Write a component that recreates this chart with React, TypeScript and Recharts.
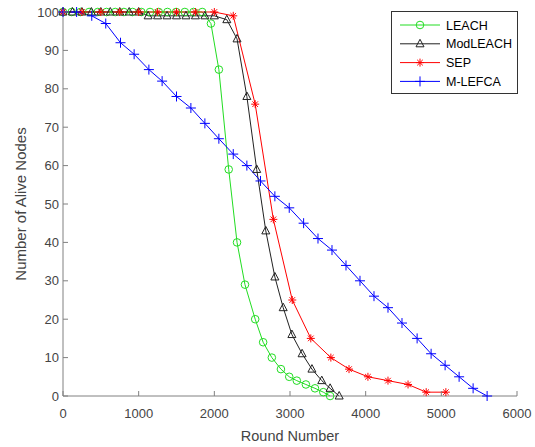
import React from "react";
import { LineChart, Line, XAxis, YAxis, Label } from "recharts";

// rounds / alive nodes
const leachRounds = [0, 115, 230, 345, 460, 575, 690, 805, 920, 1035, 1150, 1265, 1380, 1495, 1610, 1725, 1840, 1955, 2060, 2190, 2300, 2405, 2540, 2645, 2760, 2880, 2990, 3090, 3210, 3330, 3440, 3530];
const leachAlive = [100, 100, 100, 100, 100, 100, 100, 100, 100, 100, 100, 100, 100, 100, 100, 100, 100, 97, 85, 59, 40, 29, 20, 14, 10, 7, 5, 4, 3, 2, 1, 0];

const modRounds = [0, 125, 250, 375, 500, 625, 750, 875, 1000, 1125, 1250, 1375, 1500, 1625, 1750, 1875, 2000, 2165, 2300, 2430, 2560, 2680, 2800, 2910, 3025, 3160, 3290, 3420, 3530, 3650];
const modAlive = [100, 100, 100, 100, 100, 100, 100, 100, 100, 99, 99, 99, 99, 99, 99, 99, 99, 98, 93, 78, 59, 43, 31, 23, 16, 11, 7, 4, 2, 0];

const sepRounds = [0, 250, 500, 750, 1000, 1250, 1500, 1750, 2000, 2250, 2540, 2780, 3030, 3275, 3540, 3780, 4030, 4295, 4560, 4800, 5060];
const sepAlive = [100, 100, 100, 100, 100, 100, 100, 100, 100, 99, 76, 46, 25, 15, 10, 7, 5, 4, 3, 1, 1];

const lefcaRounds = [0, 180, 380, 565, 760, 940, 1135, 1310, 1500, 1690, 1875, 2060, 2250, 2430, 2610, 2800, 2990, 3180, 3370, 3555, 3740, 3925, 4110, 4295, 4480, 4680, 4865, 5050, 5235, 5420, 5605];
const lefcaAlive = [100, 100, 99, 97, 92, 89, 85, 82, 78, 75, 71, 67, 63, 60, 56, 52, 49, 45, 41, 38, 34, 30, 26, 23, 19, 15, 11, 8, 5, 2, 0];

const xTicks = [0, 1000, 2000, 3000, 4000, 5000, 6000];
const yTicks = [0, 10, 20, 30, 40, 50, 60, 70, 80, 90, 100];

const zip = (xs: number[], ys: number[]) => xs.map((r, i) => ({ round: r, alive: ys[i] }));

type Shape = "circle" | "triangle" | "star" | "plus";

const series: { name: string; color: string; shape: Shape; data: { round: number; alive: number }[] }[] = [
  { name: "LEACH", color: "#22dd22", shape: "circle", data: zip(leachRounds, leachAlive) },
  { name: "ModLEACH", color: "#222222", shape: "triangle", data: zip(modRounds, modAlive) },
  { name: "SEP", color: "#ff0000", shape: "star", data: zip(sepRounds, sepAlive) },
  { name: "M-LEFCA", color: "#0000ff", shape: "plus", data: zip(lefcaRounds, lefcaAlive) },
];

const FONT = "'Liberation Sans', Arial, sans-serif";
const AXIS = "#808080";
const TEXT = "#444444";

function Marker({ cx, cy, shape, color }: { cx: number; cy: number; shape: Shape; color: string }) {
  if (cx == null || cy == null) return null;
  if (shape === "circle") return <circle cx={cx} cy={cy} r={3.8} fill="none" stroke={color} strokeWidth={1} />;
  if (shape === "triangle") {
    const p = `${cx},${cy - 4.5} ${cx - 4},${cy + 3} ${cx + 4},${cy + 3}`;
    return <polygon points={p} fill="none" stroke={color} strokeWidth={1} />;
  }
  if (shape === "star") {
    const r = 4;
    const d = r * 0.7;
    return (
      <g stroke={color} strokeWidth={1}>
        <line x1={cx - r} y1={cy} x2={cx + r} y2={cy} />
        <line x1={cx} y1={cy - r} x2={cx} y2={cy + r} />
        <line x1={cx - d} y1={cy - d} x2={cx + d} y2={cy + d} />
        <line x1={cx - d} y1={cy + d} x2={cx + d} y2={cy - d} />
      </g>
    );
  }
  const r = 5;
  return (
    <g stroke={color} strokeWidth={1}>
      <line x1={cx - r} y1={cy} x2={cx + r} y2={cy} />
      <line x1={cx} y1={cy - r} x2={cx} y2={cy + r} />
    </g>
  );
}

const BottomTick = (props: any) => {
  const { x, y, payload } = props;
  return (
    <g>
      <line x1={x} x2={x} y1={y} y2={y - 5} stroke={AXIS} />
      <text x={x} y={y + 22} textAnchor="middle" fontSize={13} fill={TEXT} fontFamily={FONT}>
        {payload.value}
      </text>
    </g>
  );
};

const TopTick = (props: any) => {
  const { x, y } = props;
  return <line x1={x} x2={x} y1={y} y2={y + 5} stroke={AXIS} />;
};

const LeftTick = (props: any) => {
  const { x, y, payload } = props;
  return (
    <g>
      <line x1={x} x2={x + 5} y1={y} y2={y} stroke={AXIS} />
      <text x={x - 4} y={y + 4.5} textAnchor="end" fontSize={13} fill={TEXT} fontFamily={FONT}>
        {payload.value}
      </text>
    </g>
  );
};

const RightTick = (props: any) => {
  const { x, y } = props;
  return <line x1={x} x2={x - 5} y1={y} y2={y} stroke={AXIS} />;
};

function LegendBox() {
  return (
    <svg width={127} height={83} style={{ position: "absolute", left: 391, top: 11 }}>
      <rect x={0.5} y={0.5} width={126} height={82} fill="#fff" stroke="#333" strokeWidth={1} />
      {series.map((s, i) => {
        const cy = 14 + i * 18.8;
        return (
          <g key={s.name}>
            <line x1={9} x2={49} y1={cy} y2={cy} stroke={s.color} strokeWidth={1} />
            <Marker cx={29} cy={cy} shape={s.shape} color={s.color} />
            <text x={55} y={cy + 4.5} fontSize={12.5} fill="#000" fontFamily={FONT}>
              {s.name}
            </text>
          </g>
        );
      })}
    </svg>
  );
}

export default function App() {
  return (
    <div style={{ position: "absolute", left: 0, top: 0, width: 535, height: 447, background: "#fff" }}>
      <LineChart width={535} height={447} margin={{ top: 12, right: 18, left: 3, bottom: 21 }}>
        <XAxis
          type="number"
          dataKey="round"
          domain={[0, 6000]}
          ticks={xTicks}
          allowDuplicatedCategory={false}
          height={30}
          tickSize={0}
          tickMargin={0}
          tickLine={false}
          tick={<BottomTick />}
          axisLine={{ stroke: AXIS }}
        >
          <Label
            content={(p: any) => {
              const vb = p.viewBox;
              return (
                <text x={vb.x + vb.width / 2} y={vb.y + 45} textAnchor="middle" fontSize={14.5} fill={TEXT} fontFamily={FONT}>
                  Round Number
                </text>
              );
            }}
          />
        </XAxis>
        <XAxis
          xAxisId="top"
          orientation="top"
          type="number"
          dataKey="round"
          domain={[0, 6000]}
          ticks={xTicks}
          height={0}
          tickSize={0}
          tickMargin={0}
          tickLine={false}
          tick={<TopTick />}
          axisLine={{ stroke: AXIS }}
        />
        <YAxis
          type="number"
          domain={[0, 100]}
          ticks={yTicks}
          width={60}
          tickSize={0}
          tickMargin={0}
          tickLine={false}
          tick={<LeftTick />}
          axisLine={{ stroke: AXIS }}
        >
          <Label
            content={(p: any) => {
              const vb = p.viewBox;
              const cx = vb.x + 17;
              const cy = vb.y + vb.height / 2;
              return (
                <text x={cx} y={cy} transform={`rotate(-90 ${cx} ${cy})`} textAnchor="middle" dominantBaseline="central" fontSize={15} fill={TEXT} fontFamily={FONT}>
                  Number of Alive Nodes
                </text>
              );
            }}
          />
        </YAxis>
        <YAxis
          yAxisId="right"
          orientation="right"
          type="number"
          domain={[0, 100]}
          ticks={yTicks}
          width={0}
          tickSize={0}
          tickMargin={0}
          tickLine={false}
          tick={<RightTick />}
          axisLine={{ stroke: AXIS }}
        />
        {series.map((s) => (
          <Line
            key={s.name}
            data={s.data}
            dataKey="alive"
            name={s.name}
            type="linear"
            stroke={s.color}
            strokeWidth={1}
            isAnimationActive={false}
            dot={(p: any) => <Marker key={`${s.name}-${p.index}`} cx={p.cx} cy={p.cy} shape={s.shape} color={s.color} />}
            activeDot={false}
          />
        ))}
      </LineChart>
      <LegendBox />
    </div>
  );
}
